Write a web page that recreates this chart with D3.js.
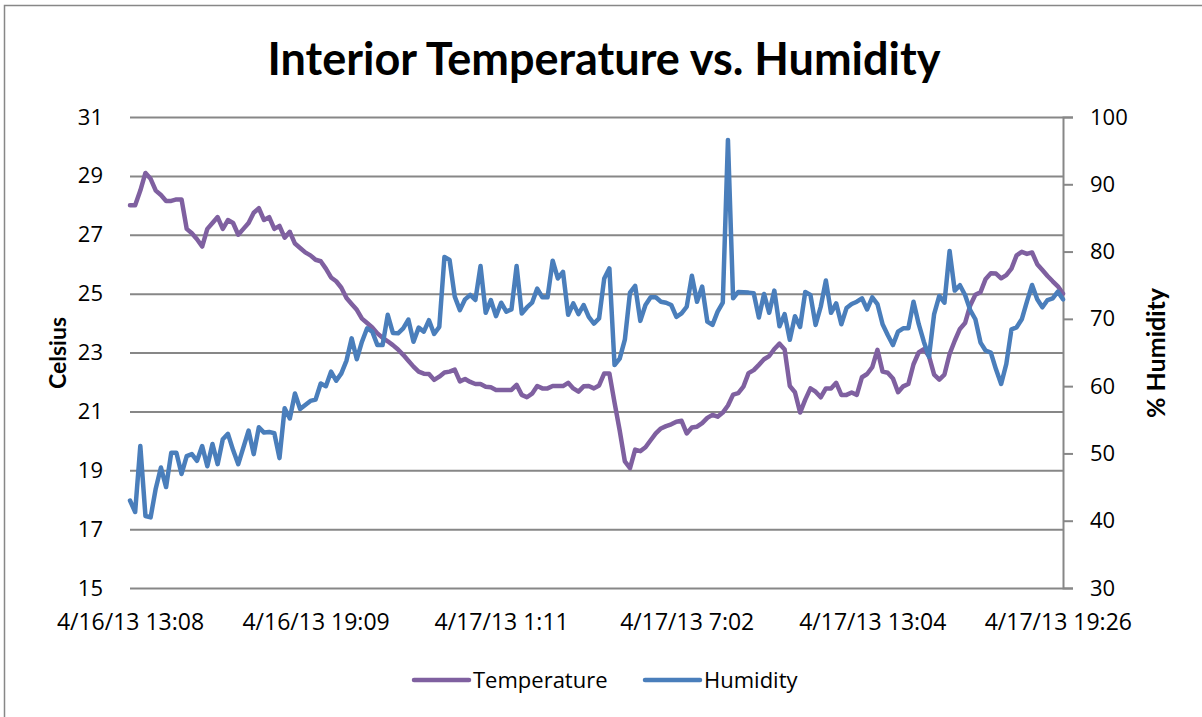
<!DOCTYPE html>
<html>
<head>
<meta charset="utf-8">
<script src="https://cdn.jsdelivr.net/npm/d3@7"></script>
<style>
  html, body { margin: 0; padding: 0; background: #fff; }
  svg { display: block; font-family: "Open Sans", Lato, sans-serif; }
</style>
</head>
<body>
<svg id="chart" width="1202" height="717"></svg>
<script>
// readings sampled every ~10 min, one value per category slot
const temperature = [
  28.0, 28.0, 28.5, 29.1, 28.9, 28.5, 28.35, 28.15, 28.15, 28.2,
  28.2, 27.2, 27.05, 26.85, 26.6, 27.2, 27.4, 27.6, 27.2, 27.5,
  27.4, 27.0, 27.2, 27.4, 27.75, 27.9, 27.5, 27.6, 27.2, 27.3,
  26.9, 27.1, 26.7, 26.55, 26.4, 26.3, 26.15, 26.1, 25.85, 25.55,
  25.42, 25.2, 24.85, 24.65, 24.45, 24.15, 24.0, 23.85, 23.65, 23.5,
  23.38, 23.25, 23.1, 22.92, 22.72, 22.52, 22.35, 22.28, 22.27, 22.07,
  22.18, 22.32, 22.35, 22.42, 22.02, 22.1, 22.0, 21.93, 21.93, 21.84,
  21.82, 21.73, 21.73, 21.73, 21.73, 21.9, 21.56, 21.48, 21.6, 21.86,
  21.78, 21.78, 21.86, 21.86, 21.86, 21.97, 21.78, 21.67, 21.85, 21.86,
  21.78, 21.88, 22.29, 22.29, 21.3, 20.35, 19.3, 19.07, 19.7, 19.65,
  19.78, 20.02, 20.25, 20.42, 20.5, 20.56, 20.65, 20.68, 20.25, 20.45,
  20.48, 20.6, 20.78, 20.88, 20.82, 20.96, 21.2, 21.57, 21.62, 21.84,
  22.3, 22.4, 22.58, 22.77, 22.88, 23.12, 23.3, 23.1, 21.86, 21.65,
  20.96, 21.4, 21.78, 21.67, 21.48, 21.78, 21.78, 21.97, 21.56, 21.56,
  21.64, 21.56, 22.16, 22.27, 22.5, 23.09, 22.35, 22.31, 22.12, 21.65,
  21.85, 21.93, 22.6, 23.0, 23.11, 22.88, 22.25, 22.08, 22.25, 22.95,
  23.4, 23.8, 24.0, 24.6, 24.96, 25.05, 25.5, 25.69, 25.68, 25.52,
  25.63, 25.85, 26.3, 26.42, 26.35, 26.4, 26.0, 25.8, 25.6, 25.42,
  25.25, 25.0
];
const humidity = [
  43.0, 41.3, 51.1, 40.7, 40.5, 44.8, 47.9, 45.0, 50.1, 50.1,
  46.95, 49.6, 49.9, 48.9, 51.1, 48.1, 51.4, 48.4, 52.1, 52.9,
  50.5, 48.4, 50.9, 53.4, 49.9, 53.9, 53.1, 53.2, 53.0, 49.3,
  56.7, 55.2, 58.9, 56.6, 57.2, 57.8, 58.0, 60.4, 60.0, 62.15,
  60.8, 61.9, 63.8, 67.1, 64.0, 66.6, 68.6, 68.1, 66.1, 66.1,
  70.6, 67.9, 67.85, 68.6, 69.9, 66.6, 68.7, 68.1, 69.8, 67.75,
  68.8, 79.2, 78.75, 73.3, 71.3, 72.9, 73.55, 72.8, 77.86, 70.9,
  72.8, 70.4, 72.4, 71.07, 71.4, 77.86, 70.8, 71.7, 72.4, 74.5,
  73.2, 73.2, 78.65, 76.0, 77.0, 70.6, 72.3, 70.7, 72.06, 70.3,
  69.3, 70.07, 76.0, 77.5, 63.14, 64.1, 66.9, 73.9, 74.9, 69.7,
  72.06, 73.2, 73.2, 72.55, 72.4, 72.06, 70.3, 70.8, 71.8, 76.4,
  72.55, 74.8, 69.6, 69.1, 71.07, 72.4, 96.6, 73.06, 74.0, 73.95,
  73.9, 73.8, 70.2, 73.7, 70.9, 74.2, 68.9, 70.7, 66.9, 70.4,
  68.8, 74.0, 73.55, 69.1, 71.8, 75.7, 70.9, 72.3, 69.2, 71.6,
  72.2, 72.55, 73.06, 71.4, 73.2, 72.2, 69.2, 67.6, 66.1, 68.1,
  68.6, 68.6, 72.55, 69.24, 66.61, 64.38, 70.72, 73.4, 72.4, 80.1,
  74.2, 75.0, 73.55, 71.3, 69.94, 66.47, 65.27, 64.98, 62.5, 60.32,
  63.29, 68.45, 68.74, 69.94, 72.55, 75.03, 72.9, 71.72, 72.8, 73.06,
  74.04, 72.9
];
// category labels shown every 36 readings
const timeLabels = ["4/16/13 13:08", "4/16/13 19:09", "4/17/13 1:11", "4/17/13 7:02", "4/17/13 13:04", "4/17/13 19:26"];
const labelStep = 36;
const celsiusTicks = [15, 17, 19, 21, 23, 25, 27, 29, 31];
const humidityTicks = [30, 40, 50, 60, 70, 80, 90, 100];
const seriesNames = ["Temperature", "Humidity"];

const PURPLE = "#7f60a0";
const BLUE = "#4a7ebb";
const GRID = "#878787";
const TICK_FONT = "'Open Sans', sans-serif";

const svg = d3.select("#chart");
const plot = { left: 130, right: 1063, top: 117, bottom: 588 };

// chart frame (only the left and top edges fall inside the picture)
svg.append("rect")
  .attr("x", 4.5).attr("y", 5.5).attr("width", 1400).attr("height", 900)
  .attr("fill", "none").attr("stroke", GRID).attr("stroke-width", 1.5);

const x = d3.scaleLinear().domain([0, temperature.length - 1]).range([plot.left, plot.right]);
const yT = d3.scaleLinear().domain([15, 31]).range([plot.bottom, plot.top]);
const yH = d3.scaleLinear().domain([30, 100]).range([plot.bottom, plot.top]);

// gridlines from the Celsius axis
const leftAxis = svg.append("g")
  .attr("transform", `translate(${plot.left},0)`)
  .call(d3.axisLeft(yT).tickValues(celsiusTicks).tickSize(-(plot.right - plot.left)).tickPadding(27).tickFormat(d3.format("d")))
  .attr("font-family", TICK_FONT).attr("font-size", 22);
leftAxis.select(".domain").remove();
leftAxis.selectAll(".tick line").attr("stroke", GRID).attr("stroke-width", 2);
leftAxis.selectAll(".tick text").attr("fill", "#000");

// secondary axis on the right
const rightAxis = svg.append("g")
  .attr("transform", `translate(${plot.right},0)`)
  .call(d3.axisRight(yH).tickValues(humidityTicks).tickSize(10).tickPadding(17).tickFormat(d3.format("d")))
  .attr("font-family", TICK_FONT).attr("font-size", 22);
rightAxis.select(".domain").attr("stroke", GRID).attr("stroke-width", 2);
rightAxis.selectAll(".tick line").attr("stroke", GRID).attr("stroke-width", 2);
rightAxis.selectAll(".tick text").attr("fill", "#000");

// category axis labels
const bottomAxis = svg.append("g")
  .attr("transform", `translate(0,${plot.bottom})`)
  .call(d3.axisBottom(x)
    .tickValues(timeLabels.map((_, i) => i * labelStep))
    .tickSize(0).tickPadding(26)
    .tickFormat((d, i) => timeLabels[i]))
  .attr("font-family", TICK_FONT).attr("font-size", 23);
bottomAxis.select(".domain").remove();
bottomAxis.selectAll(".tick text").attr("fill", "#000");

const line = (yScale) => d3.line().x((d, i) => x(i)).y(d => yScale(d));

svg.append("path").datum(temperature)
  .attr("d", line(yT))
  .attr("fill", "none").attr("stroke", PURPLE).attr("stroke-width", 4.5)
  .attr("stroke-linejoin", "round").attr("stroke-linecap", "round");

svg.append("path").datum(humidity)
  .attr("d", line(yH))
  .attr("fill", "none").attr("stroke", BLUE).attr("stroke-width", 4.5)
  .attr("stroke-linejoin", "round").attr("stroke-linecap", "round");

// title
svg.append("text")
  .attr("x", 604).attr("y", 75)
  .attr("text-anchor", "middle")
  .attr("font-family", "Lato, sans-serif")
  .attr("font-size", 45).attr("font-weight", "bold")
  .text("Interior Temperature vs. Humidity");

// axis titles
svg.append("text")
  .attr("transform", "translate(66,353) rotate(-90)")
  .attr("text-anchor", "middle").attr("font-family", "Lato, sans-serif")
  .attr("font-size", 23).attr("font-weight", "bold")
  .text("Celsius");
svg.append("text")
  .attr("transform", "translate(1165,353) rotate(-90)")
  .attr("text-anchor", "middle").attr("font-family", "Lato, sans-serif")
  .attr("font-size", 25).attr("font-weight", "bold")
  .text("% Humidity");

// legend
const legend = svg.append("g").attr("transform", "translate(0,680)")
  .attr("font-family", TICK_FONT).attr("font-size", 22);
const legendItems = [
  { name: seriesNames[0], color: PURPLE, x: 414 },
  { name: seriesNames[1], color: BLUE, x: 645 },
];
legendItems.forEach(it => {
  legend.append("line")
    .attr("x1", it.x).attr("x2", it.x + 55).attr("y1", 0).attr("y2", 0)
    .attr("stroke", it.color).attr("stroke-width", 4.5).attr("stroke-linecap", "round");
  legend.append("text")
    .attr("x", it.x + 59).attr("y", 0).attr("dy", "0.35em")
    .text(it.name);
});
</script>
</body>
</html>
